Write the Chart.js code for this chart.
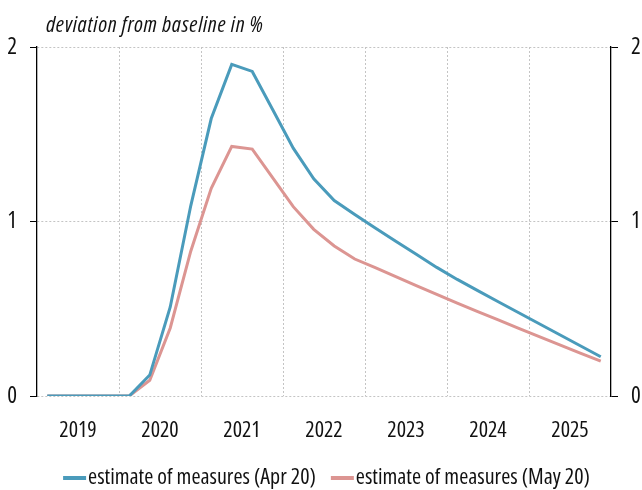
<!DOCTYPE html>
<html><head><meta charset="utf-8">
<script src="https://cdn.jsdelivr.net/npm/chart.js@4/dist/chart.umd.min.js"></script>
<style>html,body{margin:0;padding:0;background:#fff}#wrap{width:642px;height:490px;position:relative}</style>
</head><body><div id="wrap"><canvas id="c" width="642" height="490"></canvas></div>
<script>
const quarters = ['2019Q1','2019Q2','2019Q3','2019Q4','2020Q1','2020Q2','2020Q3','2020Q4',
  '2021Q1','2021Q2','2021Q3','2021Q4','2022Q1','2022Q2','2022Q3','2022Q4',
  '2023Q1','2023Q2','2023Q3','2023Q4','2024Q1','2024Q2','2024Q3','2024Q4',
  '2025Q1','2025Q2','2025Q3','2025Q4'];
const years = ['2019','2020','2021','2022','2023','2024','2025'];
const aprValues = [0,0,0,0,0,0.12,0.51,1.09,1.59,1.90,1.86,1.64,1.42,1.245,1.12,1.04,
  0.963,0.887,0.812,0.737,0.668,0.604,0.540,0.477,0.414,0.351,0.288,0.225];
const mayValues = [0,0,0,0,0,0.09,0.39,0.83,1.19,1.43,1.415,1.25,1.085,0.955,0.86,0.785,
  0.735,0.684,0.633,0.582,0.532,0.484,0.436,0.387,0.34,0.293,0.246,0.20];
const yTicks = [0,1,2];
const seriesLabels = ['estimate of measures (Apr 20)','estimate of measures (May 20)'];
const titleText = 'deviation from baseline in %';

const FAMILY = '"Open Sans","Roboto Condensed",sans-serif';
const STRETCH = '500 condensed';
const BLUE = '#4a9bbb';
const PINK = '#dc9592';
const GRID = '#c4c4c4';

const toPoints = arr => arr.map((v, i) => ({x: i + 0.5, y: v}));

const titlePlugin = {
  id: 'titleText',
  afterDraw(chart) {
    const ctx = chart.ctx;
    ctx.save();
    ctx.font = 'italic ' + STRETCH + ' 22px ' + FAMILY;
    if ('letterSpacing' in ctx) ctx.letterSpacing = '0.7px';
    ctx.fillStyle = '#111';
    ctx.textBaseline = 'alphabetic';
    ctx.textAlign = 'left';
    ctx.fillText(titleText, 46, 32);
    ctx.restore();
  }
};

const legendPlugin = {
  id: 'customLegend',
  afterDraw(chart) {
    const ctx = chart.ctx;
    ctx.save();
    ctx.font = STRETCH + ' 22px ' + FAMILY;
    ctx.textBaseline = 'middle';
    ctx.textAlign = 'left';
    const y = 478;
    const sw = 23, gap = 2, itemGap = 15;
    const items = chart.data.datasets.map(d => ({text: d.label, color: d.borderColor}));
    let total = 0;
    items.forEach((it, i) => { total += sw + gap + ctx.measureText(it.text).width + (i ? itemGap : 0); });
    let x = 326.5 - total / 2;
    items.forEach((it, i) => {
      if (i) x += itemGap;
      ctx.strokeStyle = it.color;
      ctx.lineWidth = 4;
      ctx.beginPath(); ctx.moveTo(x, y); ctx.lineTo(x + sw, y); ctx.stroke();
      x += sw + gap;
      ctx.fillStyle = '#111';
      ctx.fillText(it.text, x, y);
      x += ctx.measureText(it.text).width;
    });
    ctx.restore();
  }
};

new Chart(document.getElementById('c'), {
  type: 'line',
  data: {
    datasets: [
      {label: seriesLabels[0], data: toPoints(aprValues), borderColor: BLUE, backgroundColor: BLUE,
       borderWidth: 3, pointRadius: 0, tension: 0, yAxisID: 'y'},
      {label: seriesLabels[1], data: toPoints(mayValues), borderColor: PINK, backgroundColor: PINK,
       borderWidth: 3, pointRadius: 0, tension: 0, yAxisID: 'y'}
    ]
  },
  options: {
    responsive: false,
    animation: false,
    layout: {padding: {top: 47, left: 0, right: 0, bottom: 0}},
    plugins: {legend: {display: false}, tooltip: {enabled: false}, title: {display: false}},
    scales: {
      x: {
        type: 'linear', min: 0, max: quarters.length,
        afterBuildTicks: s => { const t = []; for (let v = 0; v <= quarters.length; v += 2) t.push({value: v}); s.ticks = t; },
        afterFit: s => { s.height = 94; },
        ticks: {autoSkip: false, maxRotation: 0, padding: 22, color: '#111',
          font: {family: FAMILY, size: 22, weight: STRETCH},
          callback: v => (v % 4 === 2 ? years[(v - 2) / 4] : '')},
        grid: {drawTicks: false, lineWidth: 1,
          color: c => (c.tick && c.tick.value % 4 === 0 && c.tick.value > 0 && c.tick.value < quarters.length) ? GRID : 'rgba(0,0,0,0)'},
        border: {display: false, dash: [2, 2]}
      },
      y: {
        position: 'left', min: 0, max: 2,
        afterBuildTicks: s => { s.ticks = yTicks.map(v => ({value: v})); },
        afterFit: s => { s.width = 37; },
        ticks: {padding: 13, color: '#111', font: {family: FAMILY, size: 23, weight: STRETCH}},
        grid: {color: GRID, tickColor: '#000', tickLength: 7, lineWidth: 1},
        border: {display: true, color: '#000', width: 1.3, dash: [2, 2]}
      },
      y2: {
        position: 'right', min: 0, max: 2,
        afterBuildTicks: s => { s.ticks = yTicks.map(v => ({value: v})); },
        afterFit: s => { s.width = 31; },
        ticks: {padding: 13, color: '#111', font: {family: FAMILY, size: 23, weight: STRETCH}},
        grid: {drawOnChartArea: false, tickColor: '#000', tickLength: 7},
        border: {display: true, color: '#000', width: 1.3}
      }
    }
  },
  plugins: [titlePlugin, legendPlugin]
});
</script></body></html>
